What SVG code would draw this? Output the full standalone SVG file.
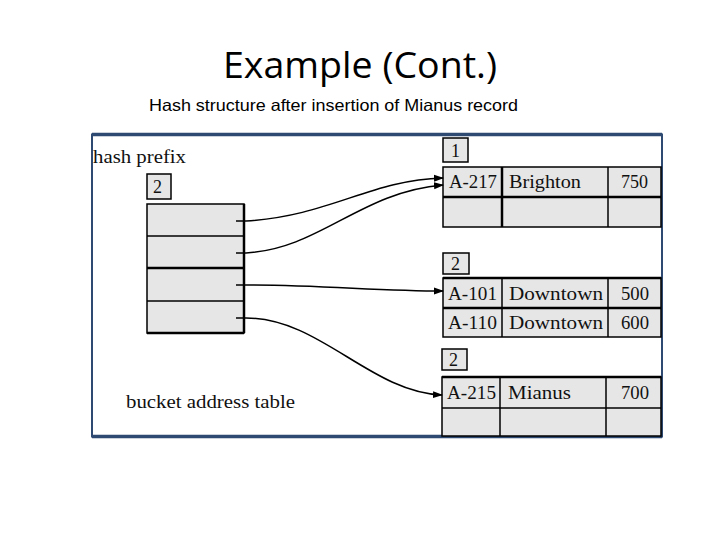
<svg xmlns="http://www.w3.org/2000/svg" width="720" height="540" viewBox="0 0 720 540">
<defs>
<style>
.t{font-family:"Liberation Serif","Times New Roman",serif;font-size:18px;fill:#111}
.c{fill:#e6e6e6;stroke:#000;stroke-width:1.5}
.b{fill:#e6e6e6;stroke:#000;stroke-width:1.5}
.l{stroke:#000;stroke-width:1.5;fill:none}
.k{stroke:#000;stroke-width:2.5;fill:none}
.a{stroke:#000;stroke-width:1.5;fill:none;marker-end:url(#ah)}
</style>
<marker id="ah" markerWidth="10" markerHeight="8" refX="9" refY="4" orient="auto" markerUnits="userSpaceOnUse">
<path d="M0,0.5 L10,4 L0,7.5 Z" fill="#000"/>
</marker>
</defs>
<rect width="720" height="540" fill="#fff"/>
<text x="223" y="78" font-family="Open Sans, Liberation Sans, sans-serif" font-size="36" textLength="274" lengthAdjust="spacingAndGlyphs" fill="#000">Example (Cont.)</text>
<text x="149" y="111" font-family="Liberation Sans, Arial, sans-serif" font-size="16.5" textLength="369" lengthAdjust="spacingAndGlyphs" fill="#000">Hash structure after insertion of Mianus record</text>

<g id="frame">
<rect x="92" y="134.5" width="570" height="302" fill="#fff" stroke="#2e4a72" stroke-width="2"/>
<line x1="92" y1="134.5" x2="662" y2="134.5" stroke="#2e4a72" stroke-width="3.5"/>
<line x1="92" y1="436.5" x2="662" y2="436.5" stroke="#2e4a72" stroke-width="3.5"/>
</g>

<g id="hash-prefix">
<text class="t" x="93" y="163" textLength="93" lengthAdjust="spacingAndGlyphs">hash prefix</text>
<rect class="c" x="147" y="174" width="24" height="25"/>
<text class="t" x="153" y="193">2</text>
</g>

<g id="bucket-address-table">
<rect class="c" x="147" y="204" width="97" height="129"/>
<line class="l" x1="147" y1="236" x2="244" y2="236"/>
<line class="k" x1="147" y1="268" x2="244" y2="268"/>
<line class="l" x1="147" y1="301" x2="244" y2="301"/>
<line class="k" x1="244" y1="204" x2="244" y2="333"/>
<line class="k" x1="147" y1="333" x2="244" y2="333"/>
<text class="t" x="126" y="408" textLength="169" lengthAdjust="spacingAndGlyphs">bucket address table</text>
</g>

<g id="bucket1">
<rect class="c" x="443" y="138" width="25" height="24"/>
<text class="t" x="451" y="157">1</text>
<rect class="c" x="443" y="167" width="218" height="60"/>
<line class="k" x1="443" y1="197" x2="661" y2="197"/>
<line class="k" x1="502" y1="167" x2="502" y2="227"/>
<line class="l" x1="608" y1="167" x2="608" y2="227"/>
<text class="t" x="449" y="188" textLength="48" lengthAdjust="spacingAndGlyphs">A-217</text>
<text class="t" x="509" y="188" textLength="72" lengthAdjust="spacingAndGlyphs">Brighton</text>
<text class="t" x="621" y="188" textLength="27" lengthAdjust="spacingAndGlyphs">750</text>
</g>

<g id="bucket2">
<rect class="c" x="443" y="253" width="26" height="21"/>
<text class="t" x="451" y="270">2</text>
<rect class="c" x="443" y="278" width="218" height="59"/>
<line class="k" x1="443" y1="278" x2="661" y2="278"/>
<line class="k" x1="443" y1="308" x2="661" y2="308"/>
<line class="l" x1="502" y1="278" x2="502" y2="337"/>
<line class="l" x1="608" y1="278" x2="608" y2="337"/>
<text class="t" x="448" y="300" textLength="49" lengthAdjust="spacingAndGlyphs">A-101</text>
<text class="t" x="509" y="300" textLength="94" lengthAdjust="spacingAndGlyphs">Downtown</text>
<text class="t" x="621" y="300" textLength="28" lengthAdjust="spacingAndGlyphs">500</text>
<text class="t" x="448" y="329" textLength="49" lengthAdjust="spacingAndGlyphs">A-110</text>
<text class="t" x="509" y="329" textLength="94" lengthAdjust="spacingAndGlyphs">Downtown</text>
<text class="t" x="621" y="329" textLength="28" lengthAdjust="spacingAndGlyphs">600</text>
</g>

<g id="bucket3">
<rect class="c" x="442" y="349" width="25" height="21"/>
<text class="t" x="449" y="366">2</text>
<rect class="c" x="442" y="377" width="219" height="59"/>
<line class="k" x1="442" y1="377" x2="661" y2="377"/>
<line class="l" x1="442" y1="408" x2="661" y2="408"/>
<line class="l" x1="500" y1="377" x2="500" y2="436"/>
<line class="l" x1="606" y1="377" x2="606" y2="436"/>
<text class="t" x="447" y="399" textLength="49" lengthAdjust="spacingAndGlyphs">A-215</text>
<text class="t" x="508" y="399" textLength="63" lengthAdjust="spacingAndGlyphs">Mianus</text>
<text class="t" x="621" y="399" textLength="28" lengthAdjust="spacingAndGlyphs">700</text>
</g>

<g id="connectors">
<path class="a" d="M236,221 L246,221 C330,216 370,180 443,178"/>
<path class="a" d="M236,253 L246,253 C320,249 360,192 443,185"/>
<path class="a" d="M236,285 L246,285 C320,285 380,291 443,291"/>
<path class="a" d="M236,318 L246,318 C320,318 370,392 442,395"/>
</g>
</svg>
